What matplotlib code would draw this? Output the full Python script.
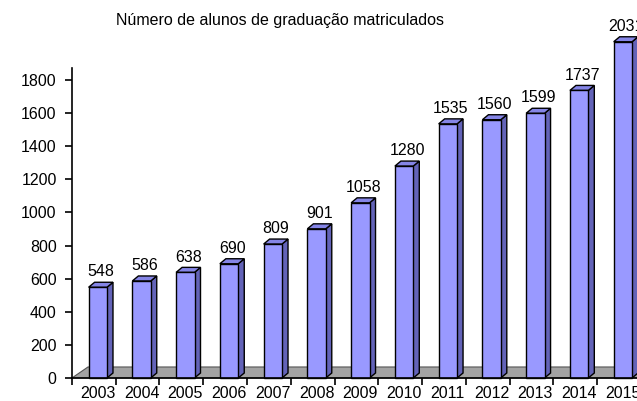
import matplotlib
matplotlib.use("Agg")
import matplotlib.pyplot as plt
from matplotlib.patches import Polygon

# data
years = ['2003', '2004', '2005', '2006', '2007', '2008', '2009',
         '2010', '2011', '2012', '2013', '2014', '2015']
alunos = [548, 586, 638, 690, 809, 901, 1058, 1280, 1535, 1560, 1599, 1737, 2031]
y_ticks = list(range(0, 2000, 200))

plt.rcParams['font.family'] = ['Liberation Sans', 'DejaVu Sans']

FRONT = '#9999ff'
SIDE = '#6363b8'
TOP = '#8585e6'
FLOOR = '#a3a3a3'

fig = plt.figure(figsize=(6.37, 4.01), dpi=100)
ax = fig.add_axes([0.113, 0.0574, 0.893, 0.772])

n = len(years)
xs = list(range(n))
ax.set_xlim(-0.59, n - 0.59)
ax.set_ylim(0, 1870)

# pixel -> data conversion for the fake 3D depth
p0 = ax.transData.transform((0, 0))
px_x = ax.transData.transform((1, 0))[0] - p0[0]
px_y = ax.transData.transform((0, 1))[1] - p0[1]
bar_dx, bar_dy = 6 / px_x, 5 / px_y
floor_dx, floor_dy = 16 / px_x, 11 / px_y

# floor
x0, x1 = ax.get_xlim()
ax.add_patch(Polygon([(x0, 0), (x1 + 1, 0), (x1 + 1 + floor_dx, floor_dy),
                      (x0 + floor_dx, floor_dy)],
                     closed=True, facecolor=FLOOR, edgecolor='#555555',
                     linewidth=0.8, zorder=1, clip_on=False))

width = 0.42
bars = ax.bar(xs, alunos, width=width, color=FRONT, edgecolor='black',
              linewidth=1.0, zorder=3, clip_on=False)

for x, v in zip(xs, alunos):
    r = x + width / 2
    l = x - width / 2
    side = Polygon([(r, 0), (r + bar_dx, bar_dy), (r + bar_dx, v + bar_dy), (r, v)],
                   closed=True, facecolor=SIDE, edgecolor='black',
                   linewidth=1.0, zorder=2, clip_on=False)
    top = Polygon([(l, v), (l + bar_dx, v + bar_dy), (r + bar_dx, v + bar_dy), (r, v)],
                  closed=True, facecolor=TOP, edgecolor='black',
                  linewidth=1.0, zorder=2, clip_on=False)
    ax.add_patch(side)
    ax.add_patch(top)
    ax.annotate(str(v), (x + bar_dx / 2, v + bar_dy), xytext=(0, 2),
                textcoords='offset points', ha='center', va='bottom',
                fontsize=11.5, annotation_clip=False)

ax.set_xticks(xs)
ax.set_xticklabels(years, fontsize=11.5)
ax.set_xticks([x - 0.59 for x in xs] + [n - 0.59], minor=True)
ax.tick_params(axis='x', which='major', length=0, pad=6)
ax.tick_params(axis='x', which='minor', length=5, width=1.2, direction='out')

ax.set_yticks(y_ticks)
ax.set_yticklabels([str(t) for t in y_ticks], fontsize=11.5)
ax.tick_params(axis='y', length=5, width=1.2, direction='out', pad=6)

for s in ['top', 'right']:
    ax.spines[s].set_visible(False)
for s in ['left', 'bottom']:
    ax.spines[s].set_linewidth(1.2)
    ax.spines[s].set_zorder(5)

fig.text(0.44, 0.95, 'Número de alunos de graduação matriculados',
         ha='center', va='center', fontsize=11.5)

fig.savefig('out.png', dpi=100)
